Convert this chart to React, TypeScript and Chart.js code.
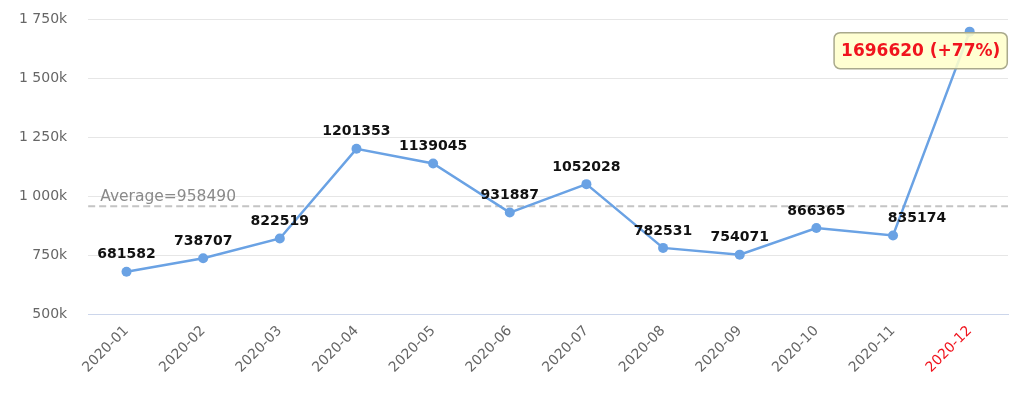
import React, { useEffect, useRef } from "react";
import Chart from "chart.js/auto";

const categories = ["2020-01","2020-02","2020-03","2020-04","2020-05","2020-06","2020-07","2020-08","2020-09","2020-10","2020-11","2020-12"];
const values = [681582, 738707, 822519, 1201353, 1139045, 931887, 1052028, 782531, 754071, 866365, 835174, 1696620];
const yTicks = [500000, 750000, 1000000, 1250000, 1500000, 1750000];

const LINE = "#6aa2e4";
const RED = "#f0141e";
const FONT = "'DejaVu Sans', Verdana, sans-serif";

function fmtTick(v: number) {
  const k = Math.round(v / 1000);
  return k.toString().replace(/\B(?=(\d{3})+(?!\d))/g, " ") + "k";
}

export default function App() {
  const ref = useRef<HTMLCanvasElement | null>(null);
  useEffect(() => {
    document.body.style.margin = "0";
    const avg = Math.round(values.reduce((a, b) => a + b, 0) / values.length);
    const last = values[values.length - 1];
    const pct = Math.round((last / avg - 1) * 100);

    const overlay = {
      id: "overlay",
      beforeDatasetsDraw(chart: any) {
        const { ctx, chartArea, scales } = chart;
        const y = scales.y.getPixelForValue(avg);
        ctx.save();
        ctx.strokeStyle = "#c4c4c4";
        ctx.lineWidth = 2;
        ctx.setLineDash([7, 4]);
        ctx.beginPath();
        ctx.moveTo(chartArea.left, y);
        ctx.lineTo(chartArea.right, y);
        ctx.stroke();
        ctx.setLineDash([]);
        ctx.font = `15.5px ${FONT}`;
        ctx.fillStyle = "#8a8a8a";
        ctx.textAlign = "left";
        ctx.textBaseline = "alphabetic";
        ctx.fillText(`Average=${avg}`, chartArea.left + 12, y - 5);
        ctx.restore();
      },
      afterDatasetsDraw(chart: any) {
        const { ctx } = chart;
        const meta = chart.getDatasetMeta(0);
        ctx.save();
        meta.data.forEach((pt: any, i: number) => {
          if (i === values.length - 1) return;
          ctx.font = `bold 14px ${FONT}`;
          ctx.fillStyle = "#111";
          ctx.textAlign = "center";
          ctx.textBaseline = "middle";
          const dx = i === 10 ? 24 : 0;
          ctx.fillText(String(values[i]), pt.x + dx, pt.y - 17);
        });
        const lp = meta.data[values.length - 1];
        const text = `${last} (+${pct}%)`;
        ctx.font = `bold 17px ${FONT}`;
        const w = ctx.measureText(text).width + 14;
        const h = 36;
        const cx = lp.x - 49;
        const cy = lp.y + 19;
        const x0 = cx - w / 2;
        const y0 = cy - h / 2;
        ctx.beginPath();
        ctx.roundRect(x0, y0, w, h, 6);
        ctx.fillStyle = "rgba(255,255,204,0.88)";
        ctx.fill();
        ctx.lineWidth = 1.5;
        ctx.strokeStyle = "#a9a98c";
        ctx.stroke();
        ctx.fillStyle = RED;
        ctx.textAlign = "center";
        ctx.textBaseline = "middle";
        ctx.fillText(text, cx, cy + 1);
        ctx.restore();
      },
    };

    const chart = new Chart(ref.current!, {
      type: "line",
      data: {
        labels: categories,
        datasets: [
          {
            data: values,
            borderColor: LINE,
            backgroundColor: LINE,
            borderWidth: 2.5,
            pointRadius: 5,
            pointBorderWidth: 0,
            pointBackgroundColor: LINE,
            tension: 0,
          },
        ],
      },
      options: {
        animation: false,
        responsive: false,
        layout: { padding: { left: -2, right: 16, top: 19, bottom: 15 } },
        plugins: { legend: { display: false }, tooltip: { enabled: false } },
        scales: {
          x: {
            offset: true,
            afterFit: (axis: any) => {
              axis.paddingTop = 0;
            },
            grid: { display: false, tickLength: 6 },
            border: { display: true, color: "#ccd6eb", width: 1 },
            ticks: {
              maxRotation: 45,
              minRotation: 45,
              padding: 2,
              font: { family: FONT, size: 14 },
              color: (c: any) => (c.index === categories.length - 1 ? RED : "#666"),
            },
          },
          y: {
            min: yTicks[0],
            max: yTicks[yTicks.length - 1],
            afterBuildTicks: (axis: any) => {
              axis.ticks = yTicks.map((v) => ({ value: v }));
            },
            afterFit: (axis: any) => {
              axis.paddingTop = 0;
            },
            grid: {
              color: (c: any) => (c.tick && c.tick.value === yTicks[0] ? "#ccd6eb" : "#e6e6e6"),
              tickLength: 0,
              drawTicks: false,
            },
            border: { display: false },
            ticks: {
              padding: 21,
              font: { family: FONT, size: 14 },
              color: "#666",
              callback: (v: any) => fmtTick(Number(v)),
            },
          },
        },
      },
      plugins: [overlay],
    });
    return () => chart.destroy();
  }, []);
  return (
    <div style={{ position: "absolute", left: 0, top: 0, width: 1024, height: 393 }}>
      <canvas ref={ref} width={1024} height={393} style={{ width: 1024, height: 393 }} />
    </div>
  );
}
